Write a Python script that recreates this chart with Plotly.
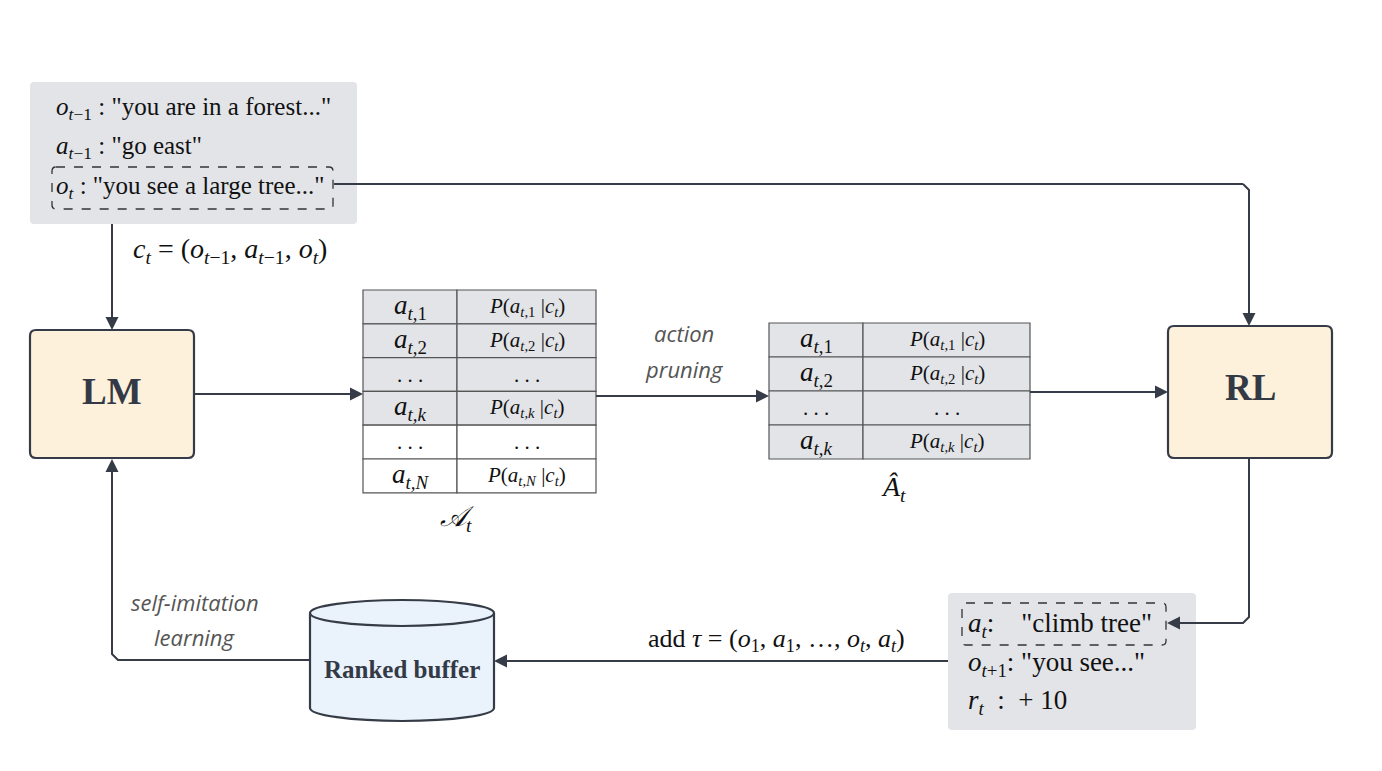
import plotly.graph_objects as go

# ---- text content ----
context_lines = [
    '<i>o</i><sub><i>t</i>−1</sub> : "you are in a forest..."',
    '<i>a</i><sub><i>t</i>−1</sub> : "go east"',
    '<i>o<sub>t</sub></i> : "you see a large tree..."',
]
context_formula = '<i>c<sub>t</sub></i> = (<i>o</i><sub><i>t</i>−1</sub>, <i>a</i><sub><i>t</i>−1</sub>, <i>o<sub>t</sub></i>)'

all_actions = ['<i>a<sub>t</sub></i><sub>,1</sub>', '<i>a<sub>t</sub></i><sub>,2</sub>', '. . .',
               '<i>a<sub>t,k</sub></i>', '. . .', '<i>a<sub>t,N</sub></i>']
all_probs = ['<i>P</i>(<i>a<sub>t</sub></i><sub>,1</sub> |<i>c<sub>t</sub></i>)',
             '<i>P</i>(<i>a<sub>t</sub></i><sub>,2</sub> |<i>c<sub>t</sub></i>)', '. . .',
             '<i>P</i>(<i>a<sub>t,k</sub></i> |<i>c<sub>t</sub></i>)', '. . .',
             '<i>P</i>(<i>a<sub>t,N</sub></i> |<i>c<sub>t</sub></i>)']
all_shaded = [True, True, True, True, False, False]

pruned_actions = all_actions[:4]
pruned_probs = all_probs[:4]

result_lines = [
    '<i>a<sub>t</sub></i>:    "climb tree"',
    '<i>o</i><sub><i>t</i>+1</sub>: "you see..."',
    '<i>r<sub>t</sub></i>  :  + 10',
]
trajectory_label = 'add <i>τ</i> = (<i>o</i><sub>1</sub>, <i>a</i><sub>1</sub>, …, <i>o<sub>t</sub></i>, <i>a<sub>t</sub></i>)'

LINE = '#363c47'
GRAY_BOX = '#e2e4e8'
CREAM = '#fdf1dc'
SERIF = 'Liberation Serif, Times New Roman, serif'
SANS = 'Open Sans, sans-serif'

# page offset of the plot inside the browser (body margin)
OFF = 8
W, H = 1382 - 2 * OFF, 771 - 2 * OFF

fig = go.Figure()
shapes = []
annots = []


def rrect(x0, y0, x1, y1, r, fill, line_color=None, width=2, dash=None):
    p = (f'M {x0+r},{y0} L {x1-r},{y0} Q {x1},{y0} {x1},{y0+r} L {x1},{y1-r} '
         f'Q {x1},{y1} {x1-r},{y1} L {x0+r},{y1} Q {x0},{y1} {x0},{y1-r} '
         f'L {x0},{y0+r} Q {x0},{y0} {x0+r},{y0} Z')
    line = dict(color=line_color or 'rgba(0,0,0,0)', width=width if line_color else 0)
    if dash:
        line['dash'] = dash
    shapes.append(dict(type='path', path=p, fillcolor=fill, line=line, layer='below'))


def seg(pts, width=2):
    p = 'M ' + ' L '.join(f'{x},{y}' for x, y in pts)
    shapes.append(dict(type='path', path=p, line=dict(color=LINE, width=width)))


def arrow(x0, y0, x1, y1):
    annots.append(dict(x=x1, y=y1, ax=x0, ay=y0, xref='x', yref='y', axref='x', ayref='y',
                       text='', showarrow=True, arrowhead=2, arrowsize=1.3, arrowwidth=2,
                       arrowcolor=LINE, standoff=0, startstandoff=0))


def label(x, y, text, size, xanchor='center', color='#111', family=SERIF):
    annots.append(dict(x=x, y=y, xref='x', yref='y', text=text, showarrow=False,
                       xanchor=xanchor, yanchor='middle',
                       font=dict(family=family, size=size, color=color)))


# ---- context box ----
rrect(30, 82, 357, 224, 4, GRAY_BOX)
rrect(52, 167, 333, 209, 4, 'rgba(0,0,0,0)', '#333', 1.3, 'dash')
for yy, txt in zip([108, 147, 187], context_lines):
    label(54, yy, txt, 25, xanchor='left')

# connector to RL
seg([(334, 184), (1243, 184)])
seg([(1243, 184), (1249, 190), (1249, 300)])
arrow(1249, 290, 1249, 326)

# context -> LM
seg([(112, 224), (112, 310)])
arrow(112, 300, 112, 330)
label(230, 250, context_formula, 28)

# ---- LM box ----
rrect(30, 330, 194, 458, 6, CREAM, LINE, 2.2)
label(112, 391, '<b>LM</b>', 37, color='#333a45')

# LM -> table 1
seg([(194, 394), (340, 394)])
arrow(330, 394, 363, 394)

# ---- table 1 ----
t1_x = [363, 457, 596]
t1_y0, t1_h = 290, 33.8
for i, (a, p, sh) in enumerate(zip(all_actions, all_probs, all_shaded)):
    y0 = t1_y0 + i * t1_h
    fill = GRAY_BOX if sh else 'white'
    shapes.append(dict(type='rect', x0=t1_x[0], x1=t1_x[1], y0=y0, y1=y0 + t1_h,
                       fillcolor=fill, line=dict(color='#555', width=1.2), layer='below'))
    shapes.append(dict(type='rect', x0=t1_x[1], x1=t1_x[2], y0=y0, y1=y0 + t1_h,
                       fillcolor=fill, line=dict(color='#555', width=1.2), layer='below'))
    label((t1_x[0] + t1_x[1]) / 2, y0 + t1_h / 2, a, 27 if '. .' not in a else 21)
    label((t1_x[1] + t1_x[2]) / 2, y0 + t1_h / 2, p, 21)
label(457, 518, '<i>𝒜<sub>t</sub></i>', 28)

# table 1 -> table 2
seg([(596, 396), (740, 396)])
arrow(730, 396, 769, 396)
label(684, 333, '<i>action</i>', 22, color='#555', family=SANS)
label(684, 369, '<i>pruning</i>', 22, color='#555', family=SANS)

# ---- table 2 ----
t2_x = [769, 863, 1030]
t2_y0, t2_h = 323, 34
for i, (a, p) in enumerate(zip(pruned_actions, pruned_probs)):
    y0 = t2_y0 + i * t2_h
    shapes.append(dict(type='rect', x0=t2_x[0], x1=t2_x[1], y0=y0, y1=y0 + t2_h,
                       fillcolor=GRAY_BOX, line=dict(color='#555', width=1.2), layer='below'))
    shapes.append(dict(type='rect', x0=t2_x[1], x1=t2_x[2], y0=y0, y1=y0 + t2_h,
                       fillcolor=GRAY_BOX, line=dict(color='#555', width=1.2), layer='below'))
    label((t2_x[0] + t2_x[1]) / 2, y0 + t2_h / 2, a, 27 if '. .' not in a else 21)
    label((t2_x[1] + t2_x[2]) / 2, y0 + t2_h / 2, p, 21)
label(893, 488, '<i>Â<sub>t</sub></i>', 28)

# table 2 -> RL
seg([(1030, 392), (1140, 392)])
arrow(1130, 392, 1168, 392)

# ---- RL box ----
rrect(1168, 326, 1332, 458, 6, CREAM, LINE, 2.2)
label(1250, 387, '<b>RL</b>', 37, color='#333a45')

# RL -> result box
seg([(1249, 458), (1249, 617), (1243, 623), (1190, 623)])
arrow(1195, 623, 1167, 623)

# ---- result box ----
rrect(948, 593, 1196, 730, 4, GRAY_BOX)
rrect(962, 603, 1166, 645, 4, 'rgba(0,0,0,0)', '#333', 1.3, 'dash')
for yy, txt in zip([625, 664, 702], result_lines):
    label(966, yy, txt, 27, xanchor='left')

# result -> buffer
seg([(948, 661), (520, 661)])
arrow(530, 661, 494, 661)
label(776, 640, trajectory_label, 26)

# ---- ranked buffer cylinder ----
cx0, cx1, top, bot, ry = 310, 494, 613, 708, 13
BLUE = '#eaf2fc'
shapes.append(dict(type='circle', x0=cx0, x1=cx1, y0=bot - ry, y1=bot + ry,
                   fillcolor=BLUE, line=dict(color=LINE, width=2.2)))
shapes.append(dict(type='rect', x0=cx0, x1=cx1, y0=top, y1=bot,
                   fillcolor=BLUE, line=dict(width=0)))
shapes.append(dict(type='line', x0=cx0, x1=cx0, y0=top, y1=bot, line=dict(color=LINE, width=2.2)))
shapes.append(dict(type='line', x0=cx1, x1=cx1, y0=top, y1=bot, line=dict(color=LINE, width=2.2)))
shapes.append(dict(type='circle', x0=cx0, x1=cx1, y0=top - ry, y1=top + ry,
                   fillcolor=BLUE, line=dict(color=LINE, width=2.2)))
label(402, 669, '<b>Ranked buffer</b>', 25, color='#333a45')

# buffer -> LM
seg([(310, 660), (118, 660), (112, 654), (112, 490)])
arrow(112, 495, 112, 459)
label(195, 602, '<i>self-imitation</i>', 22, color='#555', family=SANS)
label(195, 637, '<i>learning</i>', 22, color='#555', family=SANS)

fig.update_layout(
    width=W, height=H,
    margin=dict(l=0, r=0, t=0, b=0),
    plot_bgcolor='white', paper_bgcolor='white',
    xaxis=dict(range=[OFF, OFF + W], visible=False, fixedrange=True),
    yaxis=dict(range=[OFF + H, OFF], visible=False, fixedrange=True),
    shapes=shapes, annotations=annots, showlegend=False,
)
fig.write_html("out.html")
